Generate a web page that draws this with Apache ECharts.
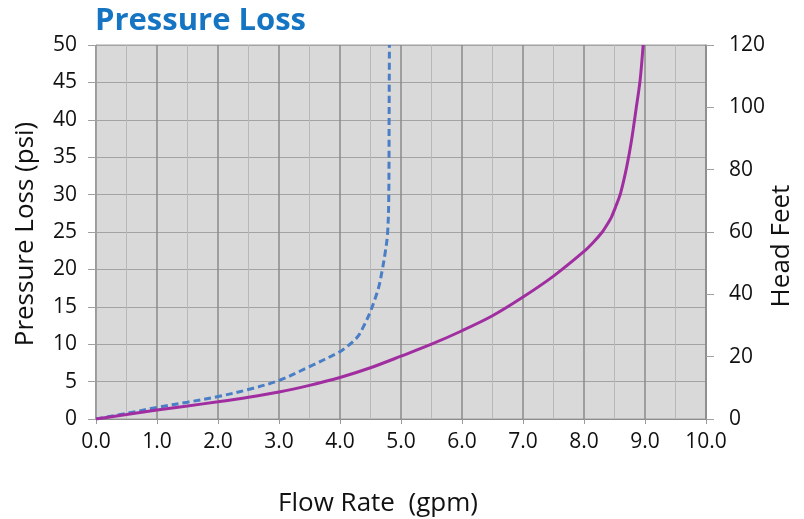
<!DOCTYPE html>
<html>
<head>
<meta charset="utf-8">
<script src="https://cdn.jsdelivr.net/npm/echarts@6/dist/echarts.min.js"></script>
<style>
html,body{margin:0;padding:0;background:#fff;}
#c{width:804px;height:519px;}
</style>
</head>
<body>
<div id="c"></div>
<script>
var titleText = "Pressure Loss";
var xTitle = "Flow Rate  (gpm)";
var yLeftTitle = "Pressure Loss (psi)";
var yRightTitle = "Head Feet";

var dashedFlow = [0, 0.5, 1.0, 1.5, 2.0, 2.5, 3.0, 3.5, 4.0, 4.1, 4.2, 4.3, 4.4, 4.5, 4.58, 4.64, 4.69, 4.74, 4.78, 4.8, 4.805, 4.81];
var dashedPsi  = [0, 0.75, 1.55, 2.25, 3.0, 3.95, 5.15, 7.0, 9.0, 9.6, 10.25, 11.1, 12.6, 14.4, 16.2, 17.8, 19.8, 22.2, 24.8, 30.0, 40.0, 50.0];

var solidFlow = [0, 0.5, 1.0, 1.5, 2.0, 2.5, 3.0, 3.5, 4.0, 4.5, 5.0, 5.5, 6.0, 6.5, 7.0, 7.5, 8.0, 8.15, 8.3, 8.38, 8.45, 8.52, 8.6, 8.7, 8.78, 8.86, 8.92, 8.97];
var solidPsi  = [0, 0.6, 1.2, 1.75, 2.3, 2.9, 3.6, 4.5, 5.55, 6.85, 8.4, 10.0, 11.8, 13.8, 16.3, 19.1, 22.4, 23.6, 25.0, 26.0, 27.0, 28.4, 30.2, 33.7, 37.3, 41.8, 45.3, 50.0];

function pairs(xs, ys){ return xs.map(function(x,i){ return [x, ys[i]]; }); }

var font = "'Open Sans', sans-serif";
var chart = echarts.init(document.getElementById('c'), null, {renderer:'canvas'});
chart.setOption({
  animation: false,
  backgroundColor: '#ffffff',
  grid: {left: 96, top: 45, right: 98, bottom: 100, show: true, backgroundColor: '#d9d9d9', borderColor: '#a0a0a0', borderWidth: 1},
  xAxis: {
    type: 'value', min: 0, max: 10, interval: 1,
    axisLine: {show: true, lineStyle: {color: '#8c8c8c', width: 1}},
    axisTick: {show: true, length: 5, lineStyle: {color: '#9a9a9a'}},
    axisLabel: {color: '#111', fontFamily: font, fontSize: 21, margin: 13, formatter: function(v){ return v.toFixed(1); }},
    splitLine: {show: true, lineStyle: {color: '#8a8a8a', width: 1.5}},
    minorTick: {show: false, splitNumber: 2},
    minorSplitLine: {show: true, lineStyle: {color: '#b8b8b8', width: 1}}
  },
  yAxis: [
    {
      type: 'value', min: 0, max: 50, interval: 5, position: 'left',
      axisLine: {show: true, lineStyle: {color: '#a0a0a0'}},
      axisTick: {show: true, length: 8, lineStyle: {color: '#a0a0a0'}},
      axisLabel: {color: '#111', fontFamily: font, fontSize: 21, margin: 19},
      splitLine: {show: true, lineStyle: {color: '#a3a3a3', width: 1.2}}
    },
    {
      type: 'value', min: 0, max: 120, interval: 20, position: 'right',
      axisLine: {show: true, lineStyle: {color: '#8c8c8c', width: 1.5}},
      axisTick: {show: true, length: 8, lineStyle: {color: '#a0a0a0'}},
      axisLabel: {color: '#111', fontFamily: font, fontSize: 21, margin: 23},
      splitLine: {show: false}
    }
  ],
  series: [
    {
      type: 'line', yAxisIndex: 0, data: pairs(dashedFlow, dashedPsi), smooth: 0.35, showSymbol: false, symbol: 'none',
      lineStyle: {color: '#4a7ec6', width: 3, type: [7, 4]}, z: 3
    },
    {
      type: 'line', yAxisIndex: 0, data: pairs(solidFlow, solidPsi), smooth: 0.3, showSymbol: false, symbol: 'none',
      lineStyle: {color: '#a02ea0', width: 3}, z: 4
    }
  ],
  graphic: [
    {type: 'text', left: 95, top: 6, style: {text: titleText, fontFamily: font, fontWeight: 'bold', fontSize: 31, fill: '#1675c2'}},
    {type: 'text', x: 378, y: 504, style: {text: xTitle, fontFamily: font, fontSize: 26, fill: '#111', align: 'center', verticalAlign: 'middle'}},
    {type: 'text', x: 26, y: 234, rotation: Math.PI/2, style: {text: yLeftTitle, fontFamily: font, fontSize: 26, fill: '#111', align: 'center', verticalAlign: 'middle'}},
    {type: 'text', x: 782, y: 246, rotation: Math.PI/2, style: {text: yRightTitle, fontFamily: font, fontSize: 26, fill: '#111', align: 'center', verticalAlign: 'middle'}}
  ]
});
</script>
</body>
</html>
